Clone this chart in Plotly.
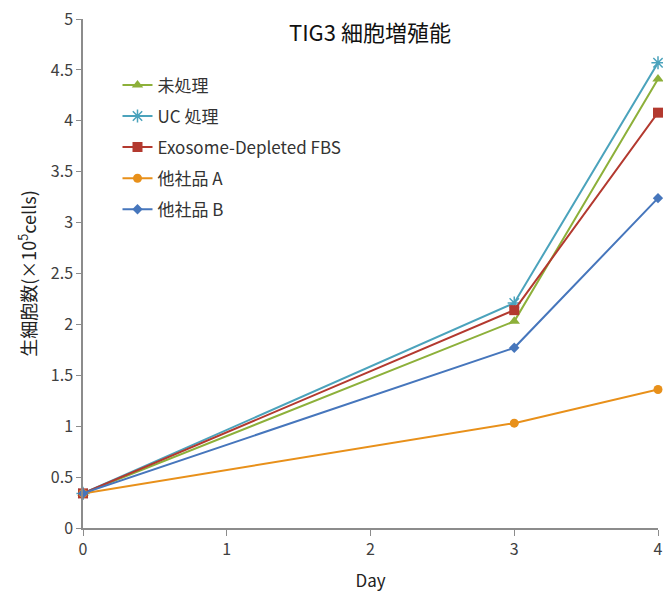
import plotly.graph_objects as go

days = [0, 3, 4]
series_names = ["未処理", "UC 処理", "Exosome-Depleted FBS", "他社品 A", "他社品 B"]
untreated = [0.34, 2.03, 4.41]
uc = [0.34, 2.21, 4.57]
exo = [0.34, 2.14, 4.08]
other_a = [0.34, 1.03, 1.36]
other_b = [0.34, 1.77, 3.24]

values = [untreated, uc, exo, other_a, other_b]
colors = ["#8DB03A", "#4BA3BC", "#B3392F", "#E8901A", "#4676BC"]
symbols = ["triangle-up", "asterisk-open", "square", "circle", "diamond"]
sizes = [10, 11, 10, 9, 8]

font = "Noto Sans CJK JP"
fig = go.Figure()
for i, (name, vals) in enumerate(zip(series_names, values)):
    fig.add_trace(go.Scatter(
        x=days, y=vals, name=name, mode="lines+markers",
        line=dict(color=colors[i], width=2),
        marker=dict(symbol=symbols[i], size=sizes[i], color=colors[i],
                    line=dict(color=colors[i], width=1.5 if symbols[i] == "asterisk-open" else 0)),
        legendgroup=str(i), cliponaxis=False,
    ))

fig.update_layout(
    width=663, height=592,
    margin=dict(l=83, r=5, t=19, b=64),
    paper_bgcolor="white", plot_bgcolor="white",
    font=dict(family=font, color="#404040", size=16),
    title=dict(text="TIG3 細胞増殖能", x=0.558, xanchor="center", y=0.944, yanchor="middle",
               font=dict(family=font, size=22, color="#111111")),
    showlegend=True,
    legend=dict(x=0.06, y=0.905, xanchor="left", yanchor="top", bgcolor="rgba(0,0,0,0)",
                font=dict(family=font, size=17, color="#333333"), tracegroupgap=6,
                itemwidth=30),
    xaxis=dict(range=[0, 4], tickvals=[0, 1, 2, 3, 4], showgrid=False, zeroline=False,
               showline=True, linecolor="#8c8c8c", linewidth=1.5, automargin=False,
               ticks="outside", ticklen=6, tickcolor="#8c8c8c",
               title=dict(text="Day", font=dict(family=font, size=17, color="#222222"), standoff=31),
               tickfont=dict(size=16, color="#404040")),
    yaxis=dict(range=[0, 5], tickvals=[0, 0.5, 1, 1.5, 2, 2.5, 3, 3.5, 4, 4.5, 5],
               ticktext=["0", "0.5", "1", "1.5", "2", "2.5", "3", "3.5", "4", "4.5", "5"],
               showgrid=False, zeroline=False, automargin=False,
               showline=True, linecolor="#8c8c8c", linewidth=1.5,
               ticks="outside", ticklen=5, tickcolor="#8c8c8c",
               title=dict(text="生細胞数(×10<sup>5</sup>cells)", font=dict(family=font, size=18, color="#222222"), standoff=10),
               tickfont=dict(size=16, color="#404040")),
)

fig.write_html("out.html")
